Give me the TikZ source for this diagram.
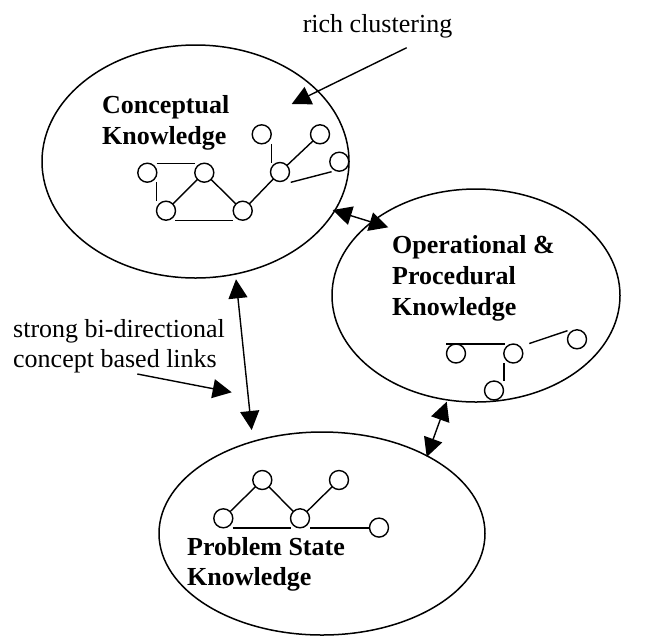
\documentclass[tikz,border=0pt]{standalone}
\usepackage{fontspec}
\setmainfont{Liberation Serif}
\usetikzlibrary{shapes.geometric,arrows.meta}
\begin{document}
\begin{tikzpicture}[x=1pt,y=-1pt,
  blob/.style={draw, ellipse, line width=1.5pt, inner sep=0pt, outer sep=0pt},
  dot/.style={draw, circle, line width=1.4pt, minimum size=19pt, inner sep=0pt, outer sep=0pt},
  link/.style={line width=1.4pt},
  arr/.style={line width=1.4pt, -{Triangle[length=19pt,width=19pt]}},
  darr/.style={line width=1.4pt, {Triangle[length=19pt,width=19pt]}-{Triangle[length=19pt,width=19pt]}},
  lbl/.style={font=\fontsize{26}{30}\selectfont, inner sep=0pt, anchor=base west},
  blbl/.style={font=\fontsize{26}{30}\selectfont\bfseries, inner sep=0pt, anchor=base west}]
\useasboundingbox (0,0) rectangle (647,638);

% big ellipses
\node[blob, minimum width=307pt, minimum height=233pt] (concept) at (195.5,161.5) {};
\node[blob, minimum width=288pt, minimum height=213pt] (oper) at (476,295.5) {};
\node[blob, minimum width=326pt, minimum height=203pt] (prob) at (322,533.5) {};

% labels
\node[lbl, anchor=base] (rich) at (377.5,32) {rich clustering};
\node[lbl] (strong1) at (13,337) {strong bi-directional};
\node[lbl] (strong2) at (13,367) {concept based links};
\node[blbl] (ct1) at (102,113) {Conceptual};
\node[blbl] (ct2) at (102,144.5) {Knowledge};
\node[blbl] (ot1) at (392,253) {Operational \&};
\node[blbl] (ot2) at (392,284) {Procedural};
\node[blbl] (ot3) at (392,315) {Knowledge};
\node[blbl] (pt1) at (187,555) {Problem State};
\node[blbl] (pt2) at (187,585) {Knowledge};

% conceptual cluster
\node[dot] (A) at (147.3,172.7) {};
\node[dot] (B) at (204.3,172.7) {};
\node[dot] (C) at (166,210.7) {};
\node[dot] (D) at (242.7,210.7) {};
\node[dot] (E) at (280,172) {};
\node[dot] (F) at (261.7,134.3) {};
\node[dot] (G) at (320,134.3) {};
\node[dot] (H) at (339.3,161.7) {};
\draw[link] ([xshift=9.4pt]A.north) -- ([xshift=-9.3pt]B.north);
\draw[link] ([xshift=9.4pt]A.south) -- ([xshift=-9.3pt]C.north);
\draw[link] (B) -- (C);
\draw[link] (B) -- (D);
\draw[link] ([xshift=9pt]C.south) -- ([xshift=-9.4pt]D.south);
\draw[link] (D) -- (E);
\draw[link] ([xshift=10pt]F.south) -- ([xshift=-8.3pt]E.north);
\draw[link] (E) -- (G);
\draw[link] ([xshift=4pt,yshift=-3.6pt]E.south east) -- ([xshift=-1pt,yshift=-3.3pt]H.south west);

% operational cluster
\node[dot] (P) at (456,353.5) {};
\node[dot] (Q) at (513.3,353.5) {};
\node[dot] (R) at (577,339.3) {};
\node[dot] (S) at (494,390.5) {};
\draw[link] ([xshift=-10pt]P.north) -- ([xshift=-8.3pt]Q.north);
\draw[link] ([xshift=-9.3pt]Q.south) -- ([xshift=10pt]S.north);
\draw[link] ([xshift=9.3pt,yshift=3.3pt]Q.north east) -- ([yshift=8.6pt]R.west);

% problem cluster
\node[dot] (U) at (223.3,518.3) {};
\node[dot] (V) at (262.3,480) {};
\node[dot] (W) at (300,518.3) {};
\node[dot] (X) at (339,480) {};
\node[dot] (Y) at (379,527.6) {};
\draw[link] (U) -- (V);
\draw[link] (V) -- (W);
\draw[link] (W) -- (X);
\draw[link] ([xshift=9.4pt]U.south) -- ([xshift=-9.3pt]W.south);
\draw[link] ([xshift=10pt]W.south) -- (W.south -| Y.west);

% arrow end points
\coordinate (richS) at (406.7,47.7);
\coordinate (richE) at (291.7,104);
\coordinate (strS) at (137.3,374);
\coordinate (strE) at (231.7,392.3);
\coordinate (co1) at (332.7,210);
\coordinate (co2) at (388.3,227.3);
\coordinate (cp1) at (236,279.3);
\coordinate (cp2) at (251.7,430);
\coordinate (op1) at (446.7,401.7);
\coordinate (op2) at (426.7,457);

\draw[arr] (richS) -- (richE);
\draw[arr] (strS) -- (strE);
\draw[darr] (co1) -- (co2);
\draw[darr] (cp1) -- (cp2);
\draw[darr] (op1) -- (op2);
\end{tikzpicture}
\end{document}
